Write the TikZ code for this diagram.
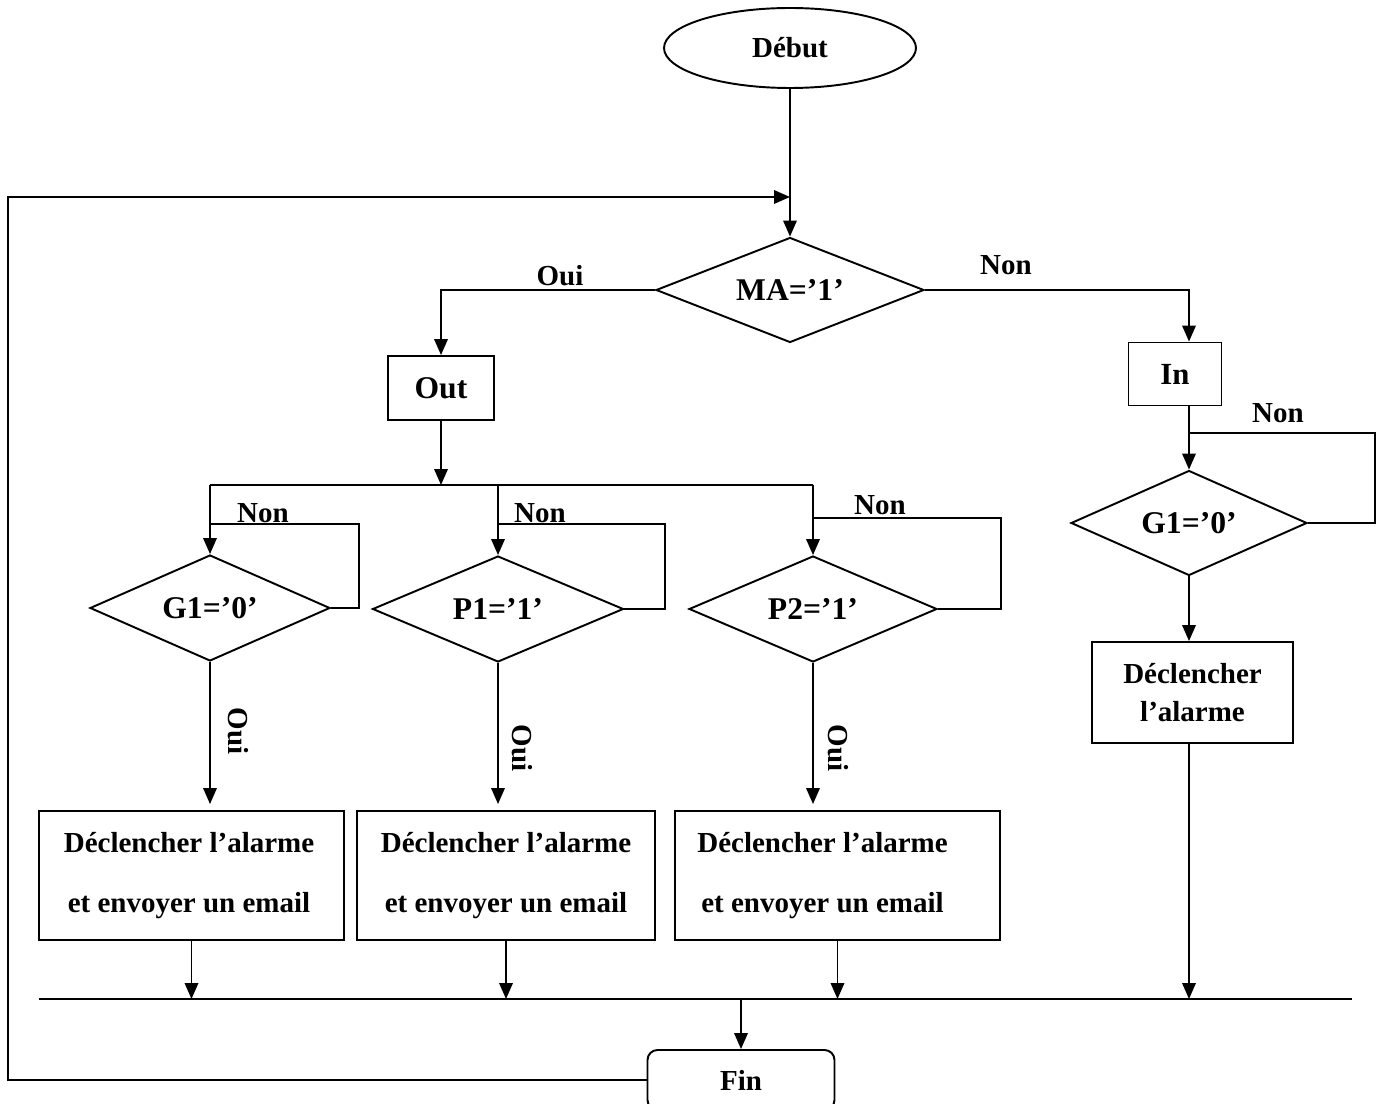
\documentclass[tikz,border=0pt]{standalone}
\usepackage{fontspec}
\setmainfont{Liberation Serif}
\usetikzlibrary{shapes.geometric,arrows.meta}
\begin{document}
\begin{tikzpicture}[x=0.02cm,y=-0.02cm,
  font=\bfseries\fontsize{16.5}{19.8}\selectfont,
  line width=1.1pt,
  >={Triangle[length=0.32cm,width=0.27cm]},
  box/.style={draw,rectangle,inner sep=0pt,align=center},
  dec/.style={draw,diamond,inner sep=0pt,aspect=2.4,font=\bfseries\fontsize{18}{21}\selectfont},
  lbl/.style={inner sep=0pt},
  act/.style={box,minimum height=2.58cm,font=\bfseries\fontsize{16.5}{34}\selectfont}]
\useasboundingbox (0,0) rectangle (1380,1104);

% nodes
\node[draw,ellipse,minimum width=5.04cm,minimum height=1.6cm,inner sep=0pt] (debut) at (790,48) {Début};
\node[dec,minimum width=5.36cm,minimum height=2.1cm] (ma) at (790,290) {MA=’1’};
\node[box,minimum width=2.12cm,minimum height=1.28cm,font=\bfseries\fontsize{18}{21}\selectfont] (out) at (441,388) {Out};
\node[box,minimum width=1.86cm,minimum height=1.26cm,font=\bfseries\fontsize{17.5}{21}\selectfont] (in) at (1175,374) {In};

\node[dec,minimum width=4.8cm,minimum height=2.12cm] (g1) at (210,608) {G1=’0’};
\node[dec,minimum width=5.02cm,minimum height=2.12cm] (p1) at (498,609) {P1=’1’};
\node[dec,minimum width=4.96cm,minimum height=2.12cm] (p2) at (813,609) {P2=’1’};
\node[dec,minimum width=4.72cm,minimum height=2.1cm] (g1r) at (1189,523) {G1=’0’};

\node[act,minimum width=6.1cm] (a1) at (191.5,875.5) {Déclencher l’alarme\hspace*{0.1cm}\\et envoyer un email\hspace*{0.1cm}};
\node[act,minimum width=5.96cm] (a2) at (506,875.5) {Déclencher l’alarme\\et envoyer un email};
\node[act,minimum width=6.5cm] (a3) at (837.5,875.5) {Déclencher l’alarme\hspace*{0.6cm}\\et envoyer un email\hspace*{0.6cm}};
\node[box,minimum width=4.02cm,minimum height=2.02cm,font=\bfseries\fontsize{16.5}{21.6}\selectfont] (alarm) at (1192.5,692.5) {Déclencher\\l’alarme};

\node[box,rounded corners=0.2cm,minimum width=3.74cm,minimum height=1.2cm] (fin) at (741,1080) {Fin};

% labels
\node[lbl] (lo1) at (560,276) {Oui};
\node[lbl] (ln1) at (1006,265) {Non};
\node[lbl] (ln2) at (263,513) {Non};
\node[lbl] (ln3) at (540,513) {Non};
\node[lbl] (ln4) at (880,505) {Non};
\node[lbl] (ln5) at (1278,413) {Non};
\node[lbl,rotate=-90] (lo2) at (238,731) {Oui};
\node[lbl,rotate=-90] (lo3) at (522,748) {Oui};
\node[lbl,rotate=-90] (lo4) at (838,748) {Oui};

% coordinates
\coordinate (br0) at (441,485);
\coordinate (bl) at (39,999);
\coordinate (brr) at (1352,999);
\coordinate (lc) at (8,197);
\coordinate (g1l) at (359,524);
\coordinate (p1l) at (665,524);
\coordinate (p2l) at (1001,518);
\coordinate (grl) at (1375,433);

% connectors
\draw[->] (debut) -- (ma);
\draw[->] (fin.west) -| (lc) -- (debut.south |- lc);
\draw[->] (ma.west) -| (out.north);
\draw[->] (ma.east) -| (g1r.north |- in.north);
\draw[->] (out.south) -- (br0);
\draw (g1.north |- br0) -- (p2.north |- br0);
\draw[->] (g1.north |- br0) -- (g1.north);
\draw[->] (p1.north |- br0) -- (p1.north);
\draw[->] (p2.north |- br0) -- (p2.north);
\draw (g1.east) -| (g1l) -- (g1.north |- g1l);
\draw (p1.east) -| (p1l) -- (p1.north |- p1l);
\draw (p2.east) -| (p2l) -- (p2.north |- p2l);
\draw[->] (g1r.north |- in.south) -- (g1r.north);
\draw (g1r.east) -| (grl) -- (g1r.north |- grl);
\draw[->,shorten >=0.12cm] (g1.south) -- (g1.south |- a1.north);
\draw[->,shorten >=0.12cm] (p1.south) -- (p1.south |- a2.north);
\draw[->,shorten >=0.12cm] (p2.south) -- (p2.south |- a3.north);
\draw[->] (g1r.south) -- (g1r.south |- alarm.north);
\draw[line width=1.5pt] (bl) -- (brr);
\draw[->] (a1.south) -- (a1.south |- bl);
\draw[->] (a2.south) -- (a2.south |- bl);
\draw[->] (a3.south) -- (a3.south |- bl);
\draw[->] (g1r.south |- alarm.south) -- (g1r.south |- bl);
\draw[->] (fin.north |- bl) -- (fin.north);
\end{tikzpicture}
\end{document}
